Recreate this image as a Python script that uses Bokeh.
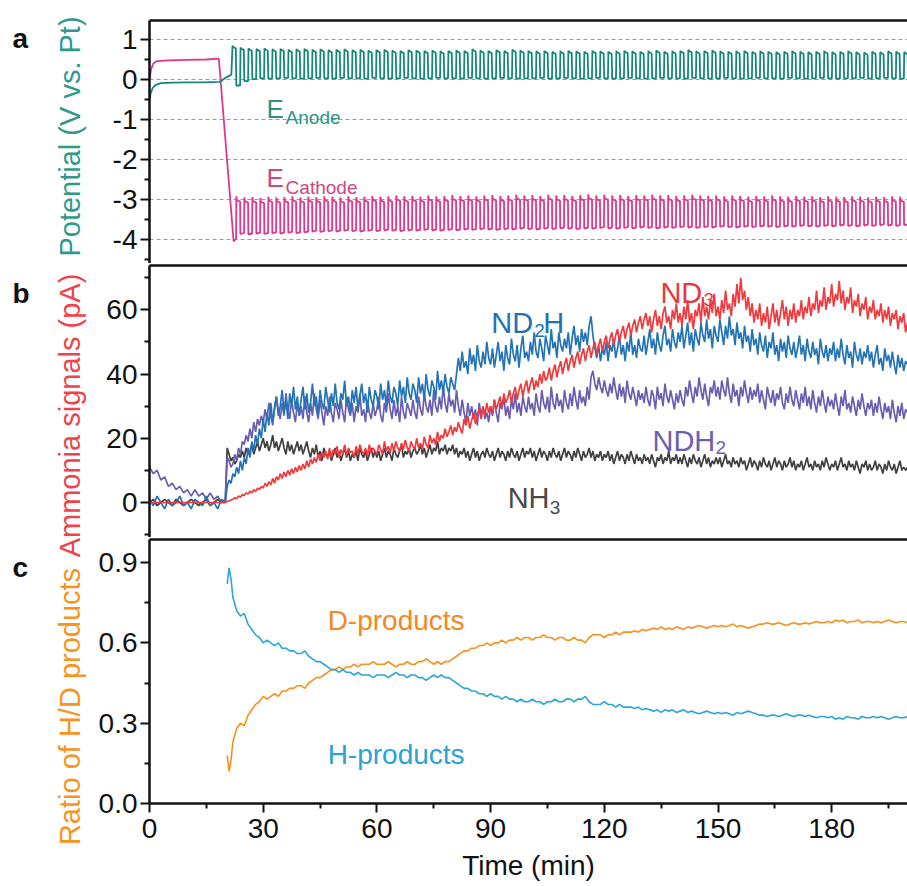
import numpy as np
from bokeh.plotting import figure
from bokeh.models import Range1d, LinearAxis, FixedTicker, PrintfTickFormatter, Label
from bokeh.layouts import row, column
from bokeh.embed import file_html
from bokeh.resources import INLINE

FONT = "Liberation Sans"

# ---------------- panel a : potentials ----------------
anode_t0 = [0, 0.3, 0.8, 1.5, 3, 6, 10, 14, 18.5, 20.0, 21.0, 21.6]
anode_v0 = [-0.48, -0.35, -0.22, -0.14, -0.09, -0.08, -0.07, -0.07, -0.06, 0.04, 0.09, 0.12]
cathode_t0 = [0, 0.4, 1.0, 2.0, 5, 10, 15, 18.3, 22.2]
cathode_v0 = [0.0, 0.25, 0.40, 0.46, 0.48, 0.49, 0.50, 0.52, -4.05]
osc_start = 21.8
osc_period = 2.11
anode_high = [0.84, 0.80, 0.78, 0.77, 0.78, 0.76, 0.77, 0.75, 0.76, 0.77,
              0.75, 0.76, 0.74, 0.75, 0.76, 0.74, 0.75, 0.73, 0.74, 0.75,
              0.73, 0.72, 0.74, 0.73, 0.72, 0.73, 0.71, 0.72, 0.73, 0.72,
              0.76, 0.73, 0.72, 0.74, 0.72, 0.75, 0.73, 0.72, 0.71, 0.72,
              0.70, 0.71, 0.72, 0.71, 0.70, 0.72, 0.71, 0.70, 0.71, 0.72,
              0.71, 0.70, 0.71, 0.73, 0.70, 0.71, 0.72, 0.74, 0.71, 0.72,
              0.73, 0.71, 0.70, 0.71, 0.72, 0.70, 0.71, 0.70, 0.69, 0.70,
              0.71, 0.70, 0.69, 0.70, 0.71, 0.69, 0.70, 0.71, 0.69, 0.68,
              0.70, 0.69, 0.71, 0.70, 0.69]
anode_low = [-0.15, -0.04, 0.01, 0.03, 0.02, 0.03, 0.04, 0.03, 0.02, 0.03,
             0.04, 0.03, 0.02, 0.04, 0.03, 0.03, 0.02, 0.04, 0.03, 0.02,
             0.03, 0.04, 0.03, 0.02, 0.03, 0.04, 0.03, 0.03, 0.02, 0.04,
             0.03, 0.02, 0.03, 0.04, 0.03, 0.02, 0.03, 0.03, 0.04, 0.02,
             0.03, 0.04, 0.03, 0.02, 0.03, 0.04, 0.03, 0.02, 0.03, 0.04,
             0.03, 0.02, 0.03, 0.04, 0.03, 0.03, 0.02, 0.04, 0.03, 0.02,
             0.03, 0.04, 0.03, 0.02, 0.03, 0.04, 0.03, 0.03, 0.02, 0.04,
             0.03, 0.02, 0.03, 0.04, 0.03, 0.02, 0.03, 0.03, 0.04, 0.02,
             0.03, 0.04, 0.03, 0.02, 0.03]
cathode_high = [-3.02, -3.05, -3.04, -3.06, -3.03, -3.05, -3.04, -3.02, -3.05, -3.03,
                -3.04, -3.02, -3.03, -3.05, -3.02, -3.04, -3.03, -3.01, -3.03, -3.02,
                -3.00, -3.02, -3.01, -3.03, -3.00, -3.02, -3.01, -2.99, -3.01, -3.00,
                -3.02, -3.00, -2.99, -3.01, -3.00, -2.98, -3.00, -2.99, -3.01, -2.98,
                -3.00, -2.99, -3.01, -2.99, -2.97, -3.00, -2.98, -3.00, -2.99, -3.01,
                -2.99, -3.00, -2.98, -3.00, -2.99, -3.01, -3.00, -2.98, -3.00, -3.01,
                -3.00, -3.02, -3.00, -3.01, -3.03, -3.01, -3.02, -3.00, -3.02, -3.03,
                -3.01, -3.03, -3.02, -3.04, -3.02, -3.03, -3.04, -3.02, -3.03, -3.05,
                -3.03, -3.04, -3.02, -3.03, -3.00]
cathode_low = [-4.00, -3.86, -3.87, -3.85, -3.86, -3.84, -3.85, -3.83, -3.84, -3.82,
               -3.80, -3.81, -3.79, -3.80, -3.78, -3.79, -3.80, -3.78, -3.79, -3.77,
               -3.78, -3.79, -3.77, -3.78, -3.76, -3.77, -3.78, -3.76, -3.77, -3.75,
               -3.76, -3.74, -3.75, -3.76, -3.74, -3.75, -3.73, -3.74, -3.75, -3.73,
               -3.74, -3.72, -3.73, -3.74, -3.72, -3.73, -3.71, -3.72, -3.73, -3.71,
               -3.72, -3.70, -3.71, -3.72, -3.70, -3.71, -3.69, -3.70, -3.71, -3.69,
               -3.70, -3.68, -3.69, -3.70, -3.68, -3.69, -3.67, -3.68, -3.69, -3.67,
               -3.68, -3.66, -3.67, -3.68, -3.66, -3.67, -3.65, -3.66, -3.67, -3.65,
               -3.66, -3.64, -3.65, -3.66, -3.64]

# ---------------- panel b : ammonia signals (pA) ----------------
# t = 0..19 min every 1 min, then 20..200 min every 0.5 min
nd2h = [1, -1, 2, 0, -2, 1, -1, 0, 2, -1, 0, -2, 1, 0, -1, 2, -1, 0, -2, 1,
        0, 5, 7, 6, 9, 8, 11, 9, 13, 10, 14, 12, 17, 14, 19, 16, 21, 18, 23, 20,
        26, 22, 28, 24, 31, 25, 29, 33, 27, 30, 35, 28, 32, 26, 34, 30, 36, 29, 33, 27,
        32, 36, 29, 34, 28, 31, 37, 30, 33, 27, 35, 31, 29, 36, 32, 28, 34, 30, 37, 31,
        29, 34, 32, 38, 30, 33, 28, 35, 31, 36, 29, 33, 37, 31, 34, 28, 36, 32, 30, 35,
        33, 29, 37, 32, 35, 30, 38, 33, 31, 36, 34, 30, 38, 33, 36, 31, 39, 34, 32, 37,
        35, 31, 39, 34, 37, 32, 40, 35, 33, 38, 36, 32, 41, 35, 38, 34, 40, 36, 34, 39,
        37, 35, 40, 45, 41, 47, 42, 44, 40, 48, 43, 46, 41, 49, 44, 42, 47, 43, 50, 45,
        43, 48, 42, 46, 50, 44, 47, 41, 49, 45, 43, 51, 46, 44, 49, 42, 48, 52, 45, 47,
        44, 50, 46, 53, 47, 45, 51, 48, 44, 52, 49, 46, 54, 48, 50, 45, 53, 49, 47, 51,
        48, 53, 46, 51, 55, 49, 52, 47, 54, 50, 53, 49, 55, 58, 52, 48, 45, 49, 44, 48,
        46, 50, 44, 49, 47, 51, 45, 48, 52, 46, 49, 44, 50, 47, 53, 46, 49, 45, 51, 48,
        47, 52, 46, 50, 54, 48, 51, 46, 53, 49, 47, 52, 55, 49, 51, 47, 54, 50, 48, 53,
        50, 55, 48, 52, 56, 49, 53, 47, 54, 51, 49, 56, 52, 50, 57, 51, 54, 48, 55, 52,
        50, 57, 53, 49, 55, 51, 58, 52, 54, 49, 56, 51, 53, 48, 55, 50, 52, 47, 54, 49,
        51, 46, 53, 49, 47, 52, 45, 50, 48, 53, 46, 49, 44, 51, 47, 50, 45, 52, 48, 46,
        50, 45, 48, 52, 46, 49, 44, 51, 47, 45, 50, 46, 48, 43, 51, 47, 45, 49, 44, 48,
        46, 50, 44, 48, 45, 51, 46, 43, 49, 45, 47, 42, 50, 46, 44, 48, 43, 47, 45, 49,
        44, 47, 42, 46, 49, 43, 45, 41, 48, 44, 46, 42, 47, 43, 40, 46, 42, 45, 41, 44,
        43]
ndh2 = [11, 9, 10, 7, 8, 5, 6, 4, 5, 3, 4, 2, 4, 2, 3, 1, 3, 1, 2, 0,
        1, 14, 13, 11, 12, 15, 13, 17, 15, 19, 18, 21, 19, 23, 20, 25, 22, 26, 24, 27,
        25, 29, 26, 31, 27, 24, 30, 33, 28, 26, 31, 27, 34, 29, 26, 32, 28, 25, 31, 27,
        30, 26, 33, 28, 25, 31, 27, 34, 29, 26, 32, 28, 24, 30, 27, 33, 28, 25, 31, 29,
        26, 32, 28, 25, 33, 29, 27, 31, 25, 30, 28, 34, 27, 29, 25, 32, 28, 26, 31, 27,
        29, 33, 27, 25, 31, 28, 34, 29, 26, 32, 27, 30, 25, 33, 28, 26, 31, 29, 27, 32,
        28, 26, 33, 29, 27, 34, 30, 28, 32, 27, 35, 30, 28, 33, 29, 36, 31, 28, 34, 30,
        32, 28, 35, 30, 27, 32, 28, 25, 31, 27, 30, 26, 29, 24, 31, 27, 30, 26, 28, 25,
        30, 27, 32, 28, 25, 31, 29, 33, 27, 30, 26, 32, 29, 34, 28, 31, 27, 33, 30, 28,
        33, 29, 31, 27, 34, 30, 28, 35, 31, 29, 33, 28, 36, 31, 29, 34, 30, 32, 28, 35,
        31, 29, 34, 30, 36, 32, 29, 35, 31, 33, 30, 36, 32, 39, 41, 37, 35, 39, 36, 34,
        38, 35, 33, 37, 34, 39, 35, 32, 37, 33, 36, 31, 38, 34, 32, 36, 33, 30, 35, 32,
        34, 31, 36, 32, 30, 35, 33, 29, 36, 32, 34, 30, 37, 33, 31, 35, 32, 29, 34, 31,
        35, 32, 30, 36, 33, 38, 34, 31, 36, 33, 39, 35, 32, 37, 33, 30, 36, 34, 38, 33,
        36, 32, 38, 35, 33, 39, 34, 31, 37, 33, 35, 30, 36, 33, 38, 34, 31, 36, 32, 35,
        33, 37, 31, 35, 32, 29, 36, 33, 31, 35, 30, 34, 32, 36, 31, 29, 34, 31, 36, 32,
        30, 35, 32, 29, 34, 31, 36, 30, 33, 29, 35, 31, 28, 33, 30, 35, 31, 28, 33, 30,
        32, 29, 34, 30, 27, 33, 30, 35, 29, 31, 28, 33, 30, 27, 32, 29, 34, 30, 27, 31,
        29, 32, 27, 31, 28, 33, 29, 26, 31, 28, 30, 26, 32, 28, 25, 30, 27, 31, 26, 29,
        28]
nd3 = [0, 0, 0, 0, 0, 0, 0, 0, 0, 0, 0, 0, 0, 0, 0, 0, 0, 0, 0, 0,
       0, 0.3, 0.5, 0.8, 1, 1.5, 1.2, 2, 1.6, 2.5, 2.2, 3, 2.6, 3.5, 3, 4, 3.4, 4.5, 4, 5,
       4.5, 6, 5, 6.5, 5.5, 7.5, 6, 8, 7, 9, 7.5, 9.5, 8, 10, 8.5, 10.5, 9, 11, 9.5, 11.5,
       10, 12, 10.5, 13, 11, 13.5, 12, 14, 12.5, 15, 13, 15.5, 14, 16, 13.5, 17, 14, 16.5, 15, 17.5,
       14, 16.5, 15, 18, 14.5, 17, 15.5, 16, 14, 17.5, 15, 18, 16, 15, 17, 14.5, 18, 15.5, 17, 16,
       15, 18, 16.5, 15, 19, 16, 17.5, 15.5, 18.5, 16, 19, 17, 16, 18.5, 16.5, 19.5, 17, 16, 19, 17.5,
       16.5, 20, 17, 18.5, 16.5, 20.5, 18, 17, 21, 18.5, 20, 18, 22, 19, 21, 20, 23, 20.5, 22, 24,
       21, 23.5, 22, 25, 23, 21.5, 26, 24, 27, 23, 25.5, 28, 24.5, 27, 29, 26, 30, 27, 31, 28,
       30, 27.5, 32, 29, 31, 33, 29.5, 34, 31, 32.5, 35, 31, 34, 36, 32, 35, 37, 33, 36, 38,
       34, 37, 39, 35, 38, 36, 40, 37, 41, 38, 39, 42, 38, 41, 43, 39, 42, 44, 40, 43,
       45, 41, 44, 46, 42, 45, 47, 43, 46, 48, 44, 47, 49, 45, 48, 50, 46, 49, 51, 47,
       50, 52, 48, 51, 53, 49, 52, 54, 50, 53, 55, 51, 54, 56, 52, 55, 57, 53, 56, 58,
       54, 57, 59, 55, 58, 53, 57, 60, 55, 58, 54, 59, 61, 56, 58, 54, 60, 57, 62, 56,
       59, 55, 61, 57, 63, 56, 59, 54, 60, 58, 62, 56, 64, 58, 61, 57, 63, 59, 65, 58,
       61, 57, 63, 59, 66, 60, 62, 58, 65, 61, 68, 62, 70, 63, 66, 60, 64, 58, 62, 56,
       60, 57, 62, 55, 59, 56, 61, 54, 58, 62, 56, 60, 55, 59, 63, 57, 61, 55, 60, 57,
       62, 56, 60, 58, 63, 57, 61, 59, 64, 58, 62, 60, 66, 59, 63, 61, 67, 60, 64, 62,
       68, 61, 65, 63, 69, 62, 66, 60, 64, 62, 67, 59, 63, 61, 65, 58, 62, 60, 64, 57,
       61, 59, 63, 57, 60, 58, 62, 56, 60, 57, 61, 55, 59, 57, 60, 54, 58, 56, 59, 53,
       56]
nh3 = [0, 1, -1, 0, 1, 0, -1, 1, 0, -1, 0, 1, 0, -1, 0, 1, -1, 0, 1, 0,
       0, 17, 15, 13, 14, 12, 13, 15, 14, 16, 14, 17, 15, 16, 18, 15, 17, 19, 16, 18,
       20, 17, 19, 16, 18, 21, 17, 19, 16, 18, 20, 17, 15, 19, 16, 18, 15, 17, 19, 16,
       18, 15, 17, 19, 16, 14, 17, 15, 18, 14, 16, 13, 17, 15, 14, 16, 13, 15, 17, 14,
       16, 13, 15, 17, 14, 16, 13, 15, 14, 16, 13, 17, 15, 14, 16, 13, 15, 17, 14, 16,
       14, 16, 13, 15, 17, 14, 16, 15, 13, 17, 15, 14, 16, 18, 14, 16, 15, 17, 14, 16,
       17, 15, 16, 18, 15, 17, 14, 16, 18, 15, 17, 16, 19, 15, 17, 16, 18, 15, 17, 16,
       18, 15, 17, 14, 16, 15, 17, 14, 16, 13, 15, 17, 14, 16, 13, 15, 16, 14, 17, 15,
       14, 16, 13, 15, 17, 14, 16, 15, 13, 16, 14, 17, 15, 14, 16, 13, 15, 17, 14, 16,
       15, 17, 14, 16, 13, 15, 17, 14, 16, 15, 13, 16, 14, 17, 15, 14, 16, 13, 15, 17,
       14, 16, 15, 13, 16, 14, 17, 15, 13, 16, 14, 15, 17, 14, 16, 13, 15, 14, 16, 13,
       15, 14, 16, 13, 15, 12, 14, 16, 13, 15, 14, 12, 15, 13, 16, 14, 12, 15, 13, 14,
       12, 15, 13, 14, 12, 15, 13, 11, 14, 13, 15, 12, 14, 13, 16, 12, 14, 13, 15, 12,
       14, 12, 15, 13, 11, 14, 12, 15, 13, 12, 14, 11, 13, 15, 12, 14, 11, 13, 12, 14,
       12, 14, 11, 13, 15, 12, 13, 11, 14, 12, 13, 11, 14, 12, 13, 10, 12, 14, 11, 13,
       12, 10, 13, 11, 14, 12, 11, 13, 10, 12, 14, 11, 13, 12, 10, 13, 11, 12, 14, 11,
       13, 10, 12, 11, 13, 10, 12, 14, 11, 12, 10, 13, 11, 12, 10, 13, 11, 14, 12, 10,
       12, 11, 13, 10, 12, 14, 11, 12, 10, 13, 11, 12, 10, 13, 11, 9, 12, 11, 13, 10,
       12, 10, 11, 13, 10, 12, 11, 9, 12, 10, 13, 11, 10, 12, 9, 11, 13, 10, 11, 10,
       11]

# ---------------- panel c : H/D ratio ----------------
time_c = [20.5, 21.0, 21.5] + list(range(22, 201))
d_products = [0.18, 0.12, 0.16,
              0.23, 0.28, 0.30, 0.29, 0.33, 0.35, 0.37, 0.38, 0.40, 0.39,
              0.40, 0.41, 0.40, 0.42, 0.42, 0.43, 0.43, 0.44, 0.44, 0.43,
              0.45, 0.46, 0.47, 0.47, 0.48, 0.49, 0.50, 0.50, 0.51, 0.50,
              0.51, 0.51, 0.52, 0.51, 0.52, 0.52, 0.52, 0.53, 0.52, 0.52,
              0.52, 0.53, 0.52, 0.51, 0.52, 0.52, 0.53, 0.52, 0.52, 0.53,
              0.53, 0.54, 0.53, 0.52, 0.53, 0.52, 0.53, 0.53, 0.54, 0.55,
              0.56, 0.57, 0.57, 0.58, 0.58, 0.59, 0.59, 0.60, 0.59, 0.60,
              0.60, 0.61, 0.60, 0.61, 0.61, 0.62, 0.61, 0.62, 0.62, 0.61,
              0.62, 0.62, 0.63, 0.62, 0.62, 0.61, 0.62, 0.62, 0.61, 0.61,
              0.62, 0.61, 0.61, 0.60, 0.62, 0.63, 0.63, 0.63, 0.62, 0.63,
              0.63, 0.64, 0.63, 0.64, 0.64, 0.64, 0.645, 0.64, 0.65, 0.645,
              0.65, 0.655, 0.65, 0.66, 0.65, 0.655, 0.65, 0.66, 0.655, 0.65,
              0.66, 0.655, 0.66, 0.665, 0.66, 0.655, 0.66, 0.665, 0.66, 0.665,
              0.66, 0.665, 0.67, 0.66, 0.665, 0.66, 0.655, 0.66, 0.665, 0.67,
              0.67, 0.675, 0.67, 0.67, 0.675, 0.67, 0.665, 0.67, 0.675, 0.67,
              0.67, 0.675, 0.67, 0.675, 0.68, 0.675, 0.675, 0.68, 0.675, 0.685,
              0.68, 0.685, 0.675, 0.68, 0.68, 0.685, 0.675, 0.68, 0.68, 0.675,
              0.68, 0.675, 0.68, 0.685, 0.68, 0.675, 0.68, 0.68, 0.675]
h_products = [0.82, 0.88, 0.84,
              0.77, 0.72, 0.70, 0.71, 0.67, 0.65, 0.63, 0.62, 0.60, 0.61,
              0.60, 0.59, 0.60, 0.58, 0.58, 0.57, 0.57, 0.56, 0.56, 0.57,
              0.55, 0.54, 0.53, 0.53, 0.52, 0.51, 0.50, 0.50, 0.49, 0.50,
              0.49, 0.49, 0.48, 0.49, 0.48, 0.48, 0.48, 0.47, 0.48, 0.48,
              0.48, 0.47, 0.48, 0.49, 0.48, 0.48, 0.47, 0.48, 0.48, 0.47,
              0.47, 0.46, 0.47, 0.48, 0.47, 0.48, 0.47, 0.47, 0.46, 0.45,
              0.44, 0.43, 0.43, 0.42, 0.42, 0.41, 0.41, 0.40, 0.41, 0.40,
              0.40, 0.39, 0.40, 0.39, 0.39, 0.38, 0.39, 0.38, 0.38, 0.39,
              0.38, 0.38, 0.37, 0.38, 0.38, 0.39, 0.38, 0.38, 0.39, 0.39,
              0.38, 0.39, 0.39, 0.40, 0.38, 0.37, 0.37, 0.37, 0.38, 0.37,
              0.37, 0.36, 0.37, 0.36, 0.36, 0.36, 0.355, 0.36, 0.35, 0.355,
              0.35, 0.345, 0.35, 0.34, 0.35, 0.345, 0.35, 0.34, 0.345, 0.35,
              0.34, 0.345, 0.34, 0.335, 0.34, 0.345, 0.34, 0.335, 0.34, 0.335,
              0.34, 0.335, 0.33, 0.34, 0.335, 0.34, 0.345, 0.34, 0.335, 0.33,
              0.33, 0.325, 0.33, 0.33, 0.325, 0.33, 0.335, 0.33, 0.325, 0.33,
              0.33, 0.325, 0.33, 0.325, 0.32, 0.325, 0.325, 0.32, 0.325, 0.315,
              0.32, 0.315, 0.325, 0.32, 0.32, 0.315, 0.325, 0.32, 0.32, 0.325,
              0.32, 0.325, 0.32, 0.315, 0.32, 0.325, 0.32, 0.32, 0.325]

x_ticks = [0, 30, 60, 90, 120, 150, 180]
x_minor = [15, 45, 75, 105, 135, 165, 195]

# ---------- build the pulsed potential traces ----------
at, av = list(anode_t0), list(anode_v0)
ct, cv = list(cathode_t0), list(cathode_v0)
half = osc_period / 2
for k in range(len(anode_high)):
    t = osc_start + k * osc_period
    hi, lo = anode_high[k], anode_low[k]
    for dt, v in ((0.1, hi), (0.35, hi - 0.03), (half - 0.08, hi - 0.06),
                  (half + 0.06, lo), (osc_period, lo)):
        at.append(t + dt); av.append(v)
    chi, clo = cathode_high[k], cathode_low[k]
    for dt, v in ((0.06, clo), (half, clo + 0.02), (half + 0.06, chi + 0.1),
                  (half + 0.22, chi), (osc_period, chi - 0.03)):
        if t + dt > ct[-1]:
            ct.append(t + dt); cv.append(v)


def time_b(series):
    return list(range(20)) + [20 + 0.5 * i for i in range(len(series) - 20)]


BLACK = "#111111"


def style_axis(ax, ticks, minor, fmt=None, standoff=3):
    ax.ticker = FixedTicker(ticks=ticks, minor_ticks=minor)
    if fmt:
        ax.formatter = PrintfTickFormatter(format=fmt)
    ax.major_label_text_font = FONT
    ax.major_label_text_font_size = "28px"
    ax.major_label_text_color = BLACK
    ax.major_label_standoff = standoff
    ax.axis_line_width = 2.5
    ax.axis_line_color = BLACK
    ax.major_tick_line_width = 2
    ax.minor_tick_line_width = 2
    ax.major_tick_line_color = BLACK
    ax.minor_tick_line_color = BLACK
    ax.major_tick_out = 9
    ax.major_tick_in = 0
    ax.minor_tick_out = 5
    ax.minor_tick_in = 0


def top_line(p):
    ax = LinearAxis(ticker=FixedTicker(ticks=[], minor_ticks=[]),
                    major_label_text_font_size="0px", major_label_standoff=0,
                    major_tick_out=0, major_tick_in=0, minor_tick_out=0, minor_tick_in=0,
                    axis_line_width=2.5, axis_line_color=BLACK)
    p.add_layout(ax, "above")


def panel(height, yr, btop, bbot, xaxis):
    p = figure(width=819, height=height, x_range=Range1d(0, 200), y_range=yr,
               output_backend="svg", toolbar_location=None,
               x_axis_location="below" if xaxis else None,
               min_border_left=61, min_border_right=0,
               min_border_top=btop, min_border_bottom=bbot)
    p.outline_line_color = None
    p.xgrid.visible = False
    p.ygrid.visible = False
    top_line(p)
    return p


def lab(p, x, y, text, color, size, xo=0, yo=0):
    p.add_layout(Label(x=x, y=y, text=text, text_color=color, text_font=FONT,
                       text_font_size=f"{size}px", x_offset=xo, y_offset=yo,
                       text_align="left", text_baseline="alphabetic"))


# ---------------- panel a ----------------
pa = panel(263, Range1d(-4.6, 1.475), 20, 0, False)
style_axis(pa.left[0], [-4, -3, -2, -1, 0, 1], [-4.5, -3.5, -2.5, -1.5, -0.5, 0.5], "%d")
pa.ygrid.visible = True
pa.ygrid.ticker = FixedTicker(ticks=[-4, -3, -2, -1, 0, 1])
pa.ygrid.grid_line_color = "#9a9a9a"
pa.ygrid.grid_line_dash = "4 3"
pa.ygrid.grid_line_width = 1.2
pa.line(ct, cv, line_color="#e2358c", line_width=1.8)
pa.line(at, av, line_color="#14877a", line_width=1.8)
lab(pa, 30.9, -0.725, "E", "#2b9487", 26)
lab(pa, 30.9, -0.725, "Anode", "#2b9487", 19, xo=19, yo=-9)
lab(pa, 30.9, -2.45, "E", "#cf4683", 26)
lab(pa, 30.9, -2.45, "Cathode", "#cf4683", 19, xo=19, yo=-10)

# ---------------- panel b ----------------
pb = panel(274, Range1d(-10.9, 73.8), 2, 0, False)
style_axis(pb.left[0], [0, 20, 40, 60], [-10, 10, 30, 50, 70])
for series, col in ((nh3, "#404040"), (ndh2, "#6b5eb0"), (nd2h, "#2474b5"), (nd3, "#ef3b3f")):
    pb.line(time_b(series), series, line_color=col, line_width=1.7)
lab(pb, 90.2, 55.8, "ND", "#2172b4", 29)
lab(pb, 90.2, 55.8, "2", "#2172b4", 19, xo=43, yo=-7)
lab(pb, 90.2, 55.8, "H", "#2172b4", 29, xo=52)
lab(pb, 134.8, 65.1, "ND", "#e8383d", 29)
lab(pb, 134.8, 65.1, "3", "#e8383d", 19, xo=43, yo=-6)
lab(pb, 132.7, 19.3, "NDH", "#6a5fb0", 29)
lab(pb, 132.7, 19.3, "2", "#6a5fb0", 19, xo=63, yo=-7)
lab(pb, 94.5, 1.25, "NH", "#4a4a4a", 29)
lab(pb, 94.5, 1.25, "3", "#4a4a4a", 19, xo=42, yo=-9)

# ---------------- panel c ----------------
pc = panel(349, Range1d(0, 0.986), 2, 83, True)
style_axis(pc.left[0], [0, 0.3, 0.6, 0.9], [0.15, 0.45, 0.75], "%.1f")
xa = pc.below[0]
style_axis(xa, x_ticks, x_minor, standoff=6)
xa.axis_label = "Time (min)"
xa.axis_label_text_font = FONT
xa.axis_label_text_font_size = "28px"
xa.axis_label_text_font_style = "normal"
xa.axis_label_text_color = BLACK
xa.axis_label_standoff = 9
pc.line(time_c[:len(d_products)], d_products, line_color="#f7901e", line_width=1.6)
pc.line(time_c[:len(h_products)], h_products, line_color="#2aa6d9", line_width=1.6)
lab(pc, 47.0, 0.684, "D-products", "#f5871f", 28)
lab(pc, 47.0, 0.183, "H-products", "#2aa3d5", 28)

# ---------------- left title column ----------------
tf = figure(width=88, height=886, x_range=Range1d(0, 88), y_range=Range1d(886, 0),
            output_backend="svg", toolbar_location=None,
            x_axis_location=None, y_axis_location=None, min_border=0)
tf.outline_line_color = None
tf.grid.visible = False
for txt, y in (("a", 38), ("b", 293), ("c", 567)):
    tf.add_layout(Label(x=12, y=y, text=txt, text_font=FONT, text_font_size="28px",
                        text_font_style="bold", text_color=BLACK,
                        text_align="left", text_baseline="alphabetic"))
for txt, y, col in (("Potential (V vs. Pt)", 136, "#2f9a8c"),
                    ("Ammonia signals (pA)", 415, "#f0434b"),
                    ("Ratio of H/D products", 706, "#f7941d")):
    tf.add_layout(Label(x=69, y=y, text=txt, text_font=FONT, text_font_size="29px",
                        text_color=col, angle=np.pi / 2,
                        text_align="center", text_baseline="middle"))

layout = row(tf, column(pa, pb, pc))
open("out.html", "w").write(file_html(layout, INLINE))
